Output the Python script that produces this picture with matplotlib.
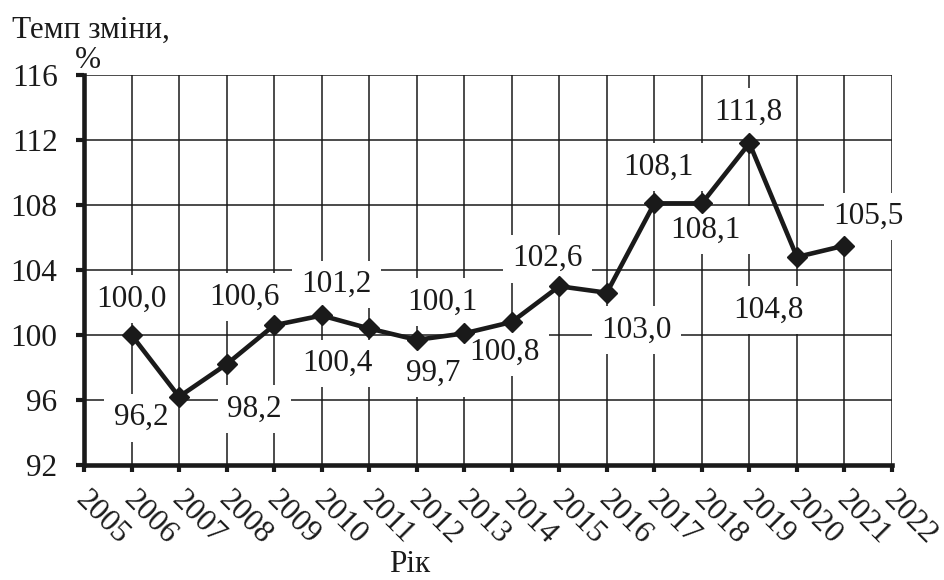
import matplotlib
matplotlib.use("Agg")
import matplotlib.pyplot as plt
import matplotlib.transforms as mtrans

plt.rcParams['font.family'] = ['Liberation Serif', 'DejaVu Serif']

years = list(range(2006, 2022))
rate = [100.0, 96.2, 98.2, 100.6, 101.2, 100.4, 99.7, 100.1, 100.8,
        103.0, 102.6, 108.1, 108.1, 111.8, 104.8, 105.5]
# where each value label sits relative to its point (pixels)
label_dx = [0, -38, 28, -30, 15, -32, 16, -22, -7, 77, -59, 4, 4, -1, -29, 24]
label_dy = [36, -21, -45, 28, 31, -35, -33, 31, -30, -44, 34, 36, -27, 31, -53, 29]
xticks = list(range(2005, 2023))
yticks = list(range(92, 117, 4))

fs = 22.5
ink = '#1a1a1a'

fig = plt.figure(figsize=(9.44, 5.8), dpi=100)
ax = fig.add_axes([84 / 944, 1 - 465 / 580, (892 - 84) / 944, (465 - 75) / 580])

ax.plot(years, rate, color=ink, lw=3.3, marker='D', ms=10, zorder=5,
        clip_on=False)

for x, v, dx, dy in zip(years, rate, label_dx, label_dy):
    ax.annotate(f"{v:.1f}".replace('.', ','), (x, v), xytext=(dx, dy),
                textcoords='offset pixels', ha='center', va='center',
                fontsize=fs, color=ink, zorder=4,
                bbox=dict(boxstyle='square,pad=0.3', fc='white', ec='none'))

ax.set_xlim(2005, 2022)
ax.set_ylim(92, 116)
ax.set_xticks(xticks)
ax.set_yticks(yticks)
ax.grid(True, color=ink, lw=1.1, zorder=1)
ax.set_axisbelow(True)

for s in ['top', 'right']:
    ax.spines[s].set_visible(False)
for s in ['left', 'bottom']:
    ax.spines[s].set_linewidth(3.3)
    ax.spines[s].set_color(ink)
    ax.spines[s].set_zorder(6)

ax.tick_params(axis='y', length=6, width=3, color=ink, pad=13,
               labelsize=fs, labelcolor=ink)
ax.tick_params(axis='x', length=5, width=3, color=ink, pad=33,
               labelsize=fs, labelcolor=ink)
shift = mtrans.ScaledTranslation(0.185, 0, fig.dpi_scale_trans)
for lbl in ax.get_xticklabels():
    lbl.set_rotation(-45)
    lbl.set_rotation_mode('anchor')
    lbl.set_ha('center')
    lbl.set_va('center')
    lbl.set_transform(lbl.get_transform() + shift)

fig.text(12 / 944, 1 - 30 / 580, "Темп зміни,", fontsize=fs, color=ink,
         ha='left', va='center')
fig.text(88 / 944, 1 - 61 / 580, "%", fontsize=fs, color=ink,
         ha='center', va='center')
fig.text(410 / 944, 1 - 564 / 580, "Рік", fontsize=fs, color=ink,
         ha='center', va='center')

fig.savefig('out.png', dpi=100)
